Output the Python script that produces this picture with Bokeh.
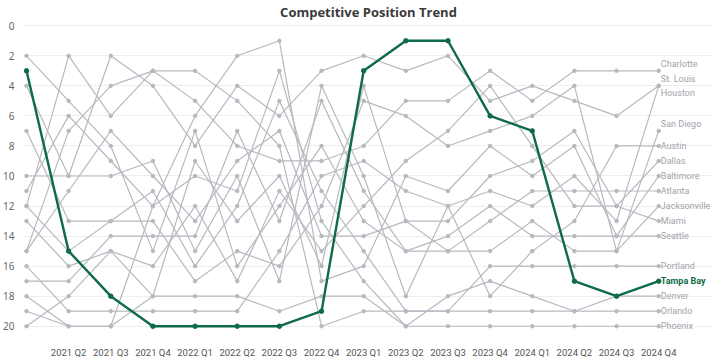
from bokeh.plotting import figure
from bokeh.models import Range1d, FixedTicker
from bokeh.embed import file_html
from bokeh.resources import INLINE
from bokeh.core.properties import value

quarters = ["2021 Q1", "2021 Q2", "2021 Q3", "2021 Q4", "2022 Q1", "2022 Q2", "2022 Q3", "2022 Q4",
            "2023 Q1", "2023 Q2", "2023 Q3", "2023 Q4", "2024 Q1", "2024 Q2", "2024 Q3", "2024 Q4"]
shown_labels = [""] + quarters[1:]

# rank per quarter (1 = best)
tampa_bay    = [3, 15, 18, 20, 20, 20, 20, 19, 3, 1, 1, 6, 7, 17, 18, 17]
charlotte    = [12, 2, 6, 3, 5, 8, 9, 9, 8, 5, 5, 3, 5, 3, 3, 3]
st_louis     = [16, 19, 19, 19, 19, 19, 15, 10, 9, 11, 12, 11, 12, 10, 13, 4]
houston      = [4, 10, 2, 4, 8, 4, 6, 3, 2, 3, 2, 5, 4, 5, 6, 4]
san_diego    = [7, 13, 13, 13, 17, 15, 16, 12, 5, 6, 8, 7, 6, 4, 15, 7]
austin       = [10, 10, 10, 9, 15, 10, 17, 4, 10, 18, 12, 18, 15, 13, 8, 8]
dallas       = [15, 11, 7, 10, 13, 9, 7, 14, 14, 13, 13, 10, 9, 7, 12, 9]
baltimore    = [11, 6, 9, 12, 6, 2, 1, 17, 16, 10, 11, 8, 10, 8, 14, 10]
atlanta      = [2, 5, 8, 15, 7, 16, 12, 8, 13, 15, 15, 13, 11, 11, 11, 11]
jacksonville = [19, 20, 20, 18, 9, 13, 10, 16, 4, 13, 15, 15, 13, 15, 15, 12]
miami        = [13, 16, 15, 16, 12, 17, 11, 15, 12, 9, 7, 4, 8, 12, 12, 13]
seattle      = [17, 17, 14, 14, 14, 7, 13, 5, 11, 15, 14, 12, 14, 14, 14, 14]
portland     = [12, 15, 13, 11, 16, 12, 5, 11, 15, 19, 19, 16, 16, 16, 16, 16]
denver       = [20, 18, 15, 18, 18, 18, 19, 18, 18, 20, 18, 17, 18, 19, 18, 18]
orlando      = [15, 7, 4, 3, 3, 5, 8, 20, 19, 19, 19, 19, 19, 19, 19, 19]
phoenix      = [18, 20, 20, 12, 10, 11, 3, 13, 17, 20, 20, 20, 20, 20, 20, 20]

gray_names = ["Charlotte", "St. Louis", "Houston", "San Diego", "Austin", "Dallas", "Baltimore", "Atlanta",
              "Jacksonville", "Miami", "Seattle", "Portland", "Denver", "Orlando", "Phoenix"]
gray_series = [charlotte, st_louis, houston, san_diego, austin, dallas, baltimore, atlanta,
               jacksonville, miami, seattle, portland, denver, orlando, phoenix]
# small vertical nudges of end labels to avoid overlap (style only)
label_nudge = {"Charlotte": -0.45, "St. Louis": -0.45, "Houston": 0.5, "San Diego": -0.45}

GRAY = "#b5b9c0"
GREEN = "#0d6b46"
FONT = "Roboto"
x = list(range(len(quarters)))

p = figure(frame_width=690, frame_height=314, output_backend="svg", toolbar_location=None,
           x_range=Range1d(-0.071, 16.3), y_range=Range1d(20.55, -0.35),
           title="Competitive Position Trend", min_border_left=0, min_border_right=0,
           min_border_top=0, min_border_bottom=0)
p.title.align = "center"
p.title.text_font = "Open Sans"
p.title.text_font_size = "13px"
p.title.text_font_style = "bold"
p.title.text_color = "#3a3a3a"
p.title.standoff = 0
p.outline_line_color = None
p.background_fill_color = "white"

p.xgrid.visible = False
p.ygrid.ticker = FixedTicker(ticks=list(range(0, 21, 2)))
p.ygrid.grid_line_color = "#eeeeee"

p.yaxis.ticker = FixedTicker(ticks=list(range(0, 21, 2)))
p.yaxis.axis_line_color = None
p.yaxis.major_tick_line_color = None
p.yaxis.minor_tick_line_color = None
p.yaxis.major_label_standoff = 3
p.yaxis.major_label_text_font_size = "10px"
p.yaxis.major_label_text_color = "#666666"
p.yaxis.major_label_text_font = "Noto Sans"

p.xaxis.ticker = FixedTicker(ticks=x)
p.xaxis.major_label_overrides = {i: lab for i, lab in enumerate(shown_labels)}
p.xaxis.axis_line_color = None
p.xaxis.major_tick_line_color = None
p.xaxis.minor_tick_line_color = None
p.xaxis.major_label_standoff = 6
p.xaxis.major_label_text_font_size = "9.5px"
p.xaxis.major_label_text_color = "#555555"
p.xaxis.major_label_text_font = FONT

for name, ranks in zip(gray_names, gray_series):
    p.line(x, ranks, line_color=GRAY, line_width=1.2)
    p.scatter(x, ranks, size=3.5, color=GRAY)

p.line(x, tampa_bay, line_color=GREEN, line_width=2.4)
p.scatter(x, tampa_bay, size=4.5, color=GREEN)

last = len(quarters) - 1
p.text(x=[last + 0.05] * len(gray_names),
       y=[s[last] + label_nudge.get(n, 0) for n, s in zip(gray_names, gray_series)],
       text=gray_names, text_baseline="middle", text_align="left",
       text_font=value(FONT), text_font_size="9px", text_color="#9ea3ab")
p.text(x=[last + 0.05], y=[tampa_bay[last]], text=["Tampa Bay"], text_baseline="middle",
       text_align="left", text_font=value(FONT), text_font_size="9px",
       text_font_style="bold", text_color=GREEN)

open("out.html", "w").write(file_html(p, INLINE))
